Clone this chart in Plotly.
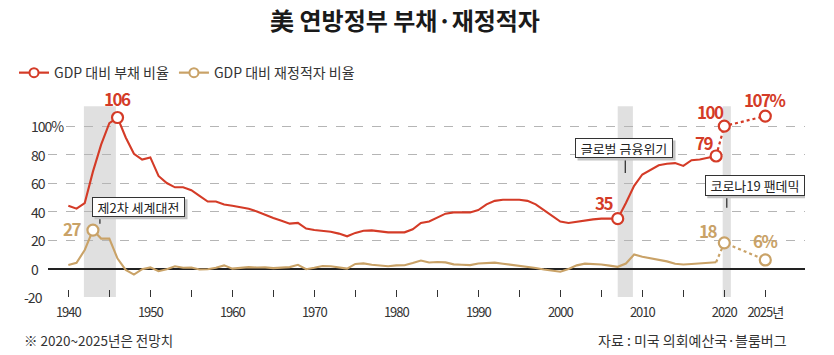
import plotly.graph_objects as go

# ---------------- data ----------------
years = list(range(1940, 2020))
debt = [44, 42, 46, 68, 87, 102, 106, 92, 80.5, 76.5,
        78, 65, 60, 57, 57, 55, 51, 47, 47, 45,
        44, 43, 42, 40, 37.5, 35.5, 33.5, 31.5, 32, 28,
        27, 26.5, 25.8, 24.5, 22.6, 25, 26.5, 26.8, 26, 25.4,
        25.4, 25.4, 27.5, 32, 33, 36, 38.5, 39.4, 39.4, 39.4,
        41, 45, 47.5, 48.3, 48.3, 48.3, 47.5, 45, 41, 37,
        33, 32, 33, 34, 34.5, 35, 35, 35, 46, 58,
        66, 69.5, 72.5, 73.5, 74, 72, 76, 76.5, 77.5, 79]
deficit = [2.5, 4, 13, 27, 21, 21, 7, -1, -4.3, -0.5,
           0.8, -1.9, -0.5, 1.6, 0.5, 0.7, -0.7, -0.5, 0.5, 2.2,
           -0.1, 0.6, 1.0, 0.7, 0.8, 0.3, 0.5, 1.0, 2.6, -0.5,
           0.5, 1.8, 1.6, 0.9, -0.1, 3.2, 3.6, 2.6, 2.3, 1.6,
           2.2, 2.3, 3.8, 5.6, 4.2, 4.6, 4.3, 2.9, 2.6, 2.4,
           3.5, 4.0, 4.1, 3.4, 2.7, 2.2, 1.2, 0.3, -0.7, -1.3,
           -2.3, -0.3, 2.2, 3.4, 3.3, 2.8, 2.0, 1.2, 3.5, 9.8,
           8.3, 7.2, 6.3, 5.0, 3.3, 2.8, 3.2, 3.5, 4.0, 4.4]

proj_years = [2019, 2020, 2025]
debt_proj = [79, 100, 107]
deficit_proj = [4.4, 18, 6]

debt_mark_years = [1946, 2007, 2019, 2020, 2025]
debt_mark_vals = [106, 35, 79, 100, 107]
debt_mark_text = ["106", "35", "79", "100", "107%"]

deficit_mark_years = [1943, 2020, 2025]
deficit_mark_vals = [27, 18, 6]
deficit_mark_text = ["27", "18", "6%"]

event_names = ["제2차 세계대전", "글로벌 금융위기", "코로나19 팬데믹"]
event_start = [1941.9, 2007.0, 2019.8]
event_end = [1945.8, 2008.85, 2020.8]

x_tick_vals = list(range(1940, 2030, 5))
x_tick_text = ["1940", "", "1950", "", "1960", "", "1970", "", "1980", "",
               "1990", "", "2000", "", "2010", "", "2020", "2025년"]
y_tick_vals = [-20, 0, 20, 40, 60, 80, 100]
y_tick_text = ["-20", "0", "20", "40", "60", "80", "100%"]

series_names = ["GDP 대비 부채 비율", "GDP 대비 재정적자 비율"]
title_text = "美 연방정부 부채·재정적자"
note_text = "※ 2020~2025년은 전망치"
source_text = "자료 : 미국 의회예산국·블룸버그"

# ---------------- style ----------------
RED = "#d43b27"
TAN = "#c9a267"
KR_FONT = "Noto Sans CJK KR, sans-serif"
TXT = "#333333"
PX_PER_YEAR = 8.2
PX_PER_UNIT = 1.4275


def tight(t, ls):
    return "<span style='letter-spacing:%spx'>%s</span>" % (ls, t) if t else t


fig = go.Figure()

# legend-only entries
for name, col in zip(series_names, [RED, TAN]):
    fig.add_trace(go.Scatter(
        x=[None], y=[None], mode="lines+markers", name=name,
        line=dict(color=col, width=2.2),
        marker=dict(symbol="circle", size=9, color="white",
                    line=dict(color=col, width=2))))

# main lines
fig.add_trace(go.Scatter(x=years, y=debt, mode="lines", showlegend=False,
                         line=dict(color=RED, width=2.1), hoverinfo="skip"))
fig.add_trace(go.Scatter(x=years, y=deficit, mode="lines", showlegend=False,
                         line=dict(color=TAN, width=2.1), hoverinfo="skip"))
# projections (dotted)
fig.add_trace(go.Scatter(x=proj_years, y=debt_proj, mode="lines", showlegend=False,
                         line=dict(color=RED, width=2.2, dash="dot"), hoverinfo="skip"))
fig.add_trace(go.Scatter(x=proj_years, y=deficit_proj, mode="lines", showlegend=False,
                         line=dict(color=TAN, width=2.2, dash="dot"), hoverinfo="skip"))
# highlighted markers
fig.add_trace(go.Scatter(x=debt_mark_years, y=debt_mark_vals, mode="markers", showlegend=False,
                         marker=dict(symbol="circle", size=11, color="white",
                                     line=dict(color=RED, width=2.2)), hoverinfo="skip"))
fig.add_trace(go.Scatter(x=deficit_mark_years, y=deficit_mark_vals, mode="markers", showlegend=False,
                         marker=dict(symbol="circle", size=11, color="white",
                                     line=dict(color=TAN, width=2.2)), hoverinfo="skip"))

shapes = []
# shaded event bands
for s, e in zip(event_start, event_end):
    shapes.append(dict(type="rect", xref="x", yref="y", x0=s, x1=e, y0=-20, y1=114,
                       fillcolor="#e0e0e0", line=dict(width=0), layer="below"))
# pointers from boxes to bands
pointer_ranges = [(35.7, 31.5), (76.9, 67.1), (51.0, 42.7)]
for s, e, (ya, yb) in zip(event_start, event_end, pointer_ranges):
    xc = (s + e) / 2
    shapes.append(dict(type="line", xref="x", yref="y", x0=xc, x1=xc, y0=ya, y1=yb,
                       line=dict(color="#333333", width=1.3)))

annotations = []
# value labels
debt_shifts = [(0, 19), (-13, 16), (-12, 13), (-14, 15), (0, 17)]
for x, y, t, (dx, dy) in zip(debt_mark_years, debt_mark_vals, debt_mark_text, debt_shifts):
    annotations.append(dict(x=x, y=y, xref="x", yref="y", text=tight(t, -1.5), showarrow=False,
                            xshift=dx, yshift=dy,
                            font=dict(family=KR_FONT, size=17, color=RED, weight="bold")))
def_shifts = [(-20, 2), (-16, 12), (0, 19)]
for x, y, t, (dx, dy) in zip(deficit_mark_years, deficit_mark_vals, deficit_mark_text, def_shifts):
    annotations.append(dict(x=x, y=y, xref="x", yref="y", text=tight(t, -1.5), showarrow=False,
                            xshift=dx, yshift=dy,
                            font=dict(family=KR_FONT, size=17, color=TAN, weight="bold")))

# event boxes (fixed-size box + soft shadow rectangle)
box_pos = [(1948.56, 43.4), (2007.77, 84.6), (2023.72, 58.4)]
box_size = [(93, 20), (98, 20), (100, 21)]
for name, (bx, by), (bw, bh) in zip(event_names, box_pos, box_size):
    off = 2.5
    shapes.append(dict(type="rect", xref="x", yref="y",
                       x0=bx + (-bw / 2 + off) / PX_PER_YEAR, x1=bx + (bw / 2 + off) / PX_PER_YEAR,
                       y0=by - (bh / 2 + off) / PX_PER_UNIT, y1=by - (-bh / 2 + off) / PX_PER_UNIT,
                       fillcolor="#c4c4c4", line=dict(width=0), layer="above"))
    annotations.append(dict(x=bx, y=by, xref="x", yref="y", text=name, showarrow=False,
                            width=bw - 6, height=bh - 6, align="center", valign="middle",
                            bgcolor="white", bordercolor="#333333", borderwidth=1, borderpad=2,
                            font=dict(family=KR_FONT, size=13, color="#222222")))

# y tick labels
PLOT_L, PLOT_W = 48, 757
for v, t in zip(y_tick_vals, y_tick_text):
    px = 22 if t.startswith("-") else 29
    annotations.append(dict(x=(px - PLOT_L) / PLOT_W, y=v, xref="paper", yref="y",
                            text=tight(t, -1), showarrow=False, xanchor="left", yanchor="middle",
                            bgcolor="white" if t.endswith("%") else None,
                            font=dict(family=KR_FONT, size=14, color=TXT)))

# footnotes
PLOT_B, PLOT_H = 297.3, 197.3
annotations.append(dict(x=(22 - PLOT_L) / PLOT_W, y=(PLOT_B - 340) / PLOT_H,
                        xref="paper", yref="paper", text=note_text, showarrow=False,
                        xanchor="left", yanchor="middle",
                        font=dict(family=KR_FONT, size=13.5, color=TXT)))
annotations.append(dict(x=(789 - PLOT_L) / PLOT_W, y=(PLOT_B - 340) / PLOT_H,
                        xref="paper", yref="paper", text=source_text, showarrow=False,
                        xanchor="right", yanchor="middle",
                        font=dict(family=KR_FONT, size=14, color=TXT)))

fig.update_layout(
    width=834, height=355,
    margin=dict(l=48, r=29, t=100, b=57.7, autoexpand=False),
    paper_bgcolor="white", plot_bgcolor="white",
    title=dict(text=title_text, x=405 / 834, xanchor="center", y=1 - 22 / 355, yanchor="middle",
               font=dict(family=KR_FONT, size=24, color="#1a1a1a", weight="bold")),
    showlegend=True,
    legend=dict(orientation="h", x=(14 - PLOT_L) / PLOT_W, xanchor="left",
                y=(PLOT_B - 73) / PLOT_H, yanchor="middle",
                font=dict(family=KR_FONT, size=14, color=TXT),
                bgcolor="rgba(0,0,0,0)", itemwidth=30, tracegroupgap=0),
    xaxis=dict(range=[1937.52, 2029.84], tickvals=x_tick_vals,
               ticktext=[tight(t, -1) for t in x_tick_text],
               ticks="inside", ticklen=7, tickwidth=1.2, tickcolor="#333333",
               ticklabelstandoff=6,
               showgrid=False, zeroline=False, showline=False,
               tickfont=dict(family=KR_FONT, size=13, color=TXT)),
    yaxis=dict(range=[-20, 118.3], tickvals=y_tick_vals, showticklabels=False,
               showgrid=True, gridcolor="#b5b5b5", griddash="dash", gridwidth=1,
               zeroline=True, zerolinecolor="#222222", zerolinewidth=1.5,
               showline=False, ticks=""),
    shapes=shapes, annotations=annotations,
)

fig.write_html("out.html", config={"displayModeBar": False},
               post_script="document.body.style.margin='0';")
